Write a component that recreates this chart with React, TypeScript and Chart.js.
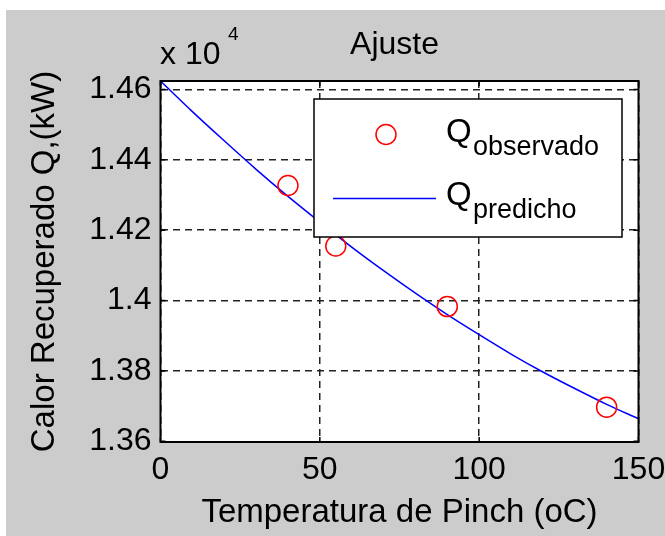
import React, { useEffect, useRef } from 'react';
import { Chart, registerables } from 'chart.js';

Chart.register(...registerables);

// Observed data (Temperatura de Pinch, oC ; Calor Recuperado, kW)
const temperaturaObservada = [40, 55, 90, 140];
const qObservado = [14327, 14155, 13983, 13697];

// Predicted curve
const temperaturaPredicha = [0, 10, 20, 30, 40, 50, 60, 70, 80, 90, 100, 110, 120, 130, 140, 150];
const qPredicho = [14624, 14537, 14454, 14373, 14296, 14223, 14152, 14085, 14021, 13960, 13903, 13848, 13797, 13750, 13705, 13664];

// Axes
const xTicks = [0, 50, 100, 150];
const xTickLabels = ['0', '50', '100', '150'];
const yTicks = [13600, 13800, 14000, 14200, 14400, 14600];
const yTickLabels = ['1.36', '1.38', '1.4', '1.42', '1.44', '1.46'];
const xMin = 0;
const xMax = 150;
const yMin = 13598;
const yMax = 14624;

const FONT = '"Liberation Sans", Arial, Helvetica, sans-serif';

const matlabPlugin = {
  id: 'matlabLook',
  beforeDraw(chart: any) {
    const { ctx, chartArea: a } = chart;
    ctx.save();
    ctx.fillStyle = '#ffffff';
    ctx.fillRect(a.left, a.top, a.right - a.left, a.bottom - a.top);
    ctx.restore();
  },
  afterDatasetsDraw(chart: any) {
    const { ctx, chartArea: a, scales } = chart;
    const xs = scales.x;
    const ys = scales.y;
    ctx.save();
    // inward tick marks
    ctx.strokeStyle = '#000';
    ctx.lineWidth = 1.5;
    ctx.setLineDash([]);
    const tl = 5;
    ctx.beginPath();
    xTicks.forEach((v) => {
      const px = xs.getPixelForValue(v);
      ctx.moveTo(px, a.bottom);
      ctx.lineTo(px, a.bottom - tl);
      ctx.moveTo(px, a.top);
      ctx.lineTo(px, a.top + tl);
    });
    yTicks.forEach((v) => {
      const py = ys.getPixelForValue(v);
      ctx.moveTo(a.left, py);
      ctx.lineTo(a.left + tl, py);
      ctx.moveTo(a.right, py);
      ctx.lineTo(a.right - tl, py);
    });
    ctx.stroke();
    // axes box
    ctx.lineWidth = 2;
    ctx.strokeRect(a.left, a.top, a.right - a.left, a.bottom - a.top);

    // legend
    const lx = 308, ly = 89, lw = 308, lh = 138;
    ctx.fillStyle = '#ffffff';
    ctx.fillRect(lx, ly, lw, lh);
    ctx.lineWidth = 1.5;
    ctx.strokeStyle = '#000';
    ctx.strokeRect(lx, ly, lw, lh);

    const ds0 = chart.data.datasets[0];
    const ds1 = chart.data.datasets[1];
    // circle marker entry
    ctx.beginPath();
    ctx.strokeStyle = ds0.borderColor;
    ctx.lineWidth = ds0.borderWidth;
    ctx.arc(380, 124.5, ds0.pointRadius, 0, Math.PI * 2);
    ctx.stroke();
    // line entry
    ctx.beginPath();
    ctx.strokeStyle = ds1.borderColor;
    ctx.lineWidth = ds1.borderWidth;
    ctx.moveTo(327, 188.5);
    ctx.lineTo(430, 188.5);
    ctx.stroke();

    ctx.fillStyle = '#000';
    ctx.textAlign = 'left';
    ctx.textBaseline = 'alphabetic';
    const [m0, s0] = ds0.label.split('_');
    const [m1, s1] = ds1.label.split('_');
    ctx.font = `33px ${FONT}`;
    ctx.fillText(m0, 440, 131.5);
    ctx.fillText(m1, 440, 195);
    ctx.font = `27px ${FONT}`;
    ctx.fillText(s0, 467, 145);
    ctx.fillText(s1, 467, 208);

    // title and exponent
    ctx.font = `32px ${FONT}`;
    ctx.textAlign = 'center';
    ctx.fillText('Ajuste', 388.5, 43.5);
    ctx.textAlign = 'left';
    ctx.fillText('x 10', 154, 53.5);
    ctx.font = `19px ${FONT}`;
    ctx.fillText('4', 222, 30);
    ctx.restore();
  },
};

export default function App() {
  const canvasRef = useRef<HTMLCanvasElement | null>(null);

  useEffect(() => {
    document.body.style.margin = '0';
    const canvas = canvasRef.current;
    if (!canvas) return;
    const chart = new Chart(canvas, {
      type: 'line',
      data: {
        datasets: [
          {
            label: 'Q_observado',
            data: temperaturaObservada.map((x, i) => ({ x, y: qObservado[i] })),
            showLine: false,
            pointStyle: 'circle',
            pointRadius: 10,
            pointHoverRadius: 10,
            borderColor: '#ff0000',
            backgroundColor: 'rgba(0,0,0,0)',
            pointBackgroundColor: 'rgba(0,0,0,0)',
            borderWidth: 1.5,
            pointBorderWidth: 1.5,
            order: 0,
          },
          {
            label: 'Q_predicho',
            data: temperaturaPredicha.map((x, i) => ({ x, y: qPredicho[i] })),
            borderColor: '#0000ff',
            borderWidth: 1.5,
            pointRadius: 0,
            fill: false,
            cubicInterpolationMode: 'monotone',
            order: 1,
          },
        ],
      },
      options: {
        responsive: false,
        animation: false,
        events: [],
        layout: { padding: { top: 71, right: 26.5, bottom: 0, left: 0 } },
        plugins: {
          legend: { display: false },
          tooltip: { enabled: false },
          title: { display: false },
        },
        scales: {
          x: {
            type: 'linear',
            min: xMin,
            max: xMax,
            afterBuildTicks: (s: any) => {
              s.ticks = xTicks.map((v) => ({ value: v }));
            },
            afterFit: (s: any) => {
              s.height = 94;
              s.paddingRight = 0;
              s.paddingLeft = 0;
            },
            ticks: {
              autoSkip: false,
              maxRotation: 0,
              padding: 9,
              color: '#000',
              font: { size: 32, family: FONT },
              callback: (v: any) => xTickLabels[xTicks.indexOf(Number(v))],
            },
            grid: { color: '#222', lineWidth: 1.5, drawTicks: false },
            border: { display: false, dash: [7, 5] },
            title: {
              display: true,
              text: 'Temperatura de Pinch (oC)',
              color: '#000',
              font: { size: 33, family: FONT },
              padding: { top: 0, bottom: 3 },
            },
          },
          y: {
            type: 'linear',
            min: yMin,
            max: yMax,
            afterBuildTicks: (s: any) => {
              s.ticks = yTicks.map((v) => ({ value: v }));
            },
            afterFit: (s: any) => {
              s.width = 154.5;
            },
            ticks: {
              autoSkip: false,
              padding: 9,
              color: '#000',
              font: { size: 32, family: FONT },
              callback: (v: any) => yTickLabels[yTicks.indexOf(Number(v))],
            },
            grid: { color: '#222', lineWidth: 1.5, drawTicks: false },
            border: { display: false, dash: [7, 5] },
            title: {
              display: true,
              text: 'Calor Recuperado Q,(kW)',
              color: '#000',
              font: { size: 33, family: FONT },
              padding: { top: 19, bottom: 0 },
            },
          },
        },
      },
      plugins: [matlabPlugin],
    } as any);
    return () => chart.destroy();
  }, []);

  return (
    <div style={{ position: 'relative', width: 665, height: 536, background: '#ffffff', overflow: 'hidden' }}>
      <div style={{ position: 'absolute', left: 6, top: 10, width: 659, height: 526, background: '#cccccc' }}>
        <canvas ref={canvasRef} width={659} height={526} style={{ display: 'block' }} />
      </div>
    </div>
  );
}
